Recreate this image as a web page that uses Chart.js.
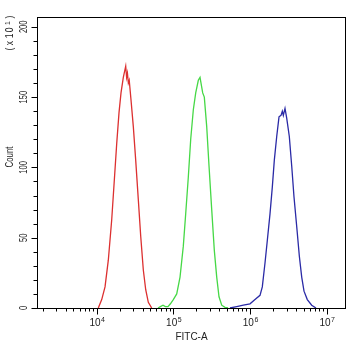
<!DOCTYPE html>
<html>
<head>
<meta charset="utf-8">
<script src="https://cdn.jsdelivr.net/npm/chart.js@4.4.1/dist/chart.umd.min.js"></script>
<style>
  html, body { margin: 0; padding: 0; background: #fff; }
  #wrap { width: 350px; height: 343px; position: relative; }
</style>
</head>
<body>
<div id="wrap"><canvas id="FITC"></canvas></div>
<script>
// FITC-A channel value of each histogram bin and its count (x 10^1)
const redFitc = [10550, 11690, 12910, 14250, 15790, 17070, 18340, 19650, 20860, 22360, 24030, 24700, 25300, 26000, 26700, 28170, 30190, 32440, 35080, 37700, 40760, 43800, 47360, 52450];
const redCount = [0, 6, 15, 34, 63, 91, 117, 139, 153, 164, 172, 164, 167, 160, 162, 148, 129, 105, 77, 51, 27, 13, 4, 0];

const greenFitc = [63360, 68000, 73620, 79000, 85530, 92000, 100300, 111100, 122700, 135400, 145500, 157300, 169100, 182900, 196500, 212500, 223600, 242400, 254400, 273400, 293000, 317700, 343500, 369200, 395500, 428900, 473600, 518200];
const greenCount = [0, 1, 2, 1, 1, 3, 6, 10, 22, 44, 67, 93, 120, 141, 153, 162, 164, 153, 150, 129, 101, 70, 41, 22, 8, 2, 0.5, 0];

const blueFitc = [550200, 673000, 820000, 1003000, 1165000, 1354000, 1451000, 1573000, 1686000, 1828000, 1959000, 2080000, 2236000, 2396000, 2544000, 2645000, 2726000, 2868000, 3018000, 3264000, 3508000, 3758000, 4076000, 4408000, 4736000, 5075000, 5602000, 6393000, 7273000];
const blueCount = [0, 1, 2, 3, 6, 9, 15, 32, 48, 67, 86, 105, 122, 136, 137, 140, 137, 142, 135, 122, 101, 79, 58, 37, 22, 12, 6, 2, 0];

// axis ticks
const xDecades = [1e4, 1e5, 1e6, 1e7];
const xDecadeExp = ['4', '5', '6', '7'];
const xMinorMult = [2, 3, 4, 5, 6, 7, 8, 9];
const yLabelled = [0, 50, 100, 150, 200];
const yMinorStep = 10;

const FONT = "'Liberation Sans', Arial, sans-serif";
const INK = '#222';

function pairs(xs, ys) {
  return xs.map((x, i) => ({ x: x, y: ys[i] }));
}

// vertical text, read bottom to top, squeezed along its length
function upText(ctx, str, x, y, size, squeeze) {
  ctx.save();
  ctx.translate(x, y);
  ctx.rotate(-Math.PI / 2);
  ctx.scale(squeeze, 1);
  ctx.font = size + 'px ' + FONT;
  ctx.textAlign = 'center';
  ctx.textBaseline = 'middle';
  ctx.fillText(str, 0, 0);
  ctx.restore();
}

// draws the frame, tick marks and all axis text
const axisDecor = {
  id: 'axisDecor',
  afterDraw(chart) {
    const ctx = chart.ctx;
    const a = chart.chartArea;
    const xs = chart.scales.x;
    const ys = chart.scales.y;
    ctx.save();
    ctx.strokeStyle = '#000';
    ctx.fillStyle = INK;
    ctx.lineWidth = 1;
    ctx.strokeRect(Math.round(a.left) + 0.5, Math.round(a.top) + 0.5,
      Math.round(a.right - a.left) - 1, Math.round(a.bottom - a.top));

    const bottom = Math.round(a.bottom) + 0.5;
    const left = Math.round(a.left) + 0.5;

    // y ticks
    ctx.beginPath();
    for (let v = 0; v <= 200; v += yMinorStep) {
      const py = Math.round(ys.getPixelForValue(v)) + 0.5;
      const len = yLabelled.includes(v) ? 6 : 4;
      ctx.moveTo(left - len, py);
      ctx.lineTo(left, py);
    }
    // x ticks
    const lo = xs.min, hi = xs.max;
    for (let e = 3; e <= 7; e++) {
      xMinorMult.forEach(m => {
        const v = m * Math.pow(10, e);
        if (v < lo || v > hi) return;
        const px = Math.round(xs.getPixelForValue(v)) + 0.5;
        ctx.moveTo(px, bottom);
        ctx.lineTo(px, bottom + 3);
      });
    }
    xDecades.forEach(v => {
      const px = Math.round(xs.getPixelForValue(v)) + 0.5;
      ctx.moveTo(px, bottom);
      ctx.lineTo(px, bottom + 6);
    });
    ctx.stroke();

    // y labels, rotated
    yLabelled.forEach(v => {
      upText(ctx, String(v), 24.5, ys.getPixelForValue(v), 10, 0.75);
    });

    // x decade labels: 10 with raised exponent
    ctx.textBaseline = 'alphabetic';
    xDecades.forEach((v, i) => {
      const px = xs.getPixelForValue(v);
      ctx.font = '10px ' + FONT;
      ctx.textAlign = 'right';
      ctx.fillText('10', px + 4, 326);
      ctx.font = '7px ' + FONT;
      ctx.textAlign = 'left';
      ctx.fillText(xDecadeExp[i], px + 4.5, 322);
    });

    // x title
    ctx.font = '10px ' + FONT;
    ctx.textAlign = 'center';
    ctx.fillText('FITC-A', (a.left + a.right) / 2, 340);

    // y title
    upText(ctx, 'Count', 10, 157, 10.5, 0.75);

    // count multiplier, spaced out as "( x 1 0 ¹ )"
    const parts = [['(', 49], ['x', 43], ['1', 36], ['0', 30], ['1', 23], [')', 17]];
    parts.forEach((p, i) => {
      const sup = i === 4;
      upText(ctx, p[0], sup ? 8 : 10.5, p[1], sup ? 8 : 10, 0.85);
    });
    ctx.restore();
  }
};

new Chart(document.getElementById('FITC'), {
  type: 'scatter',
  data: {
    datasets: [
      { label: 'red', data: pairs(redFitc, redCount), borderColor: '#dc3030' },
      { label: 'green', data: pairs(greenFitc, greenCount), borderColor: '#46d846' },
      { label: 'blue', data: pairs(blueFitc, blueCount), borderColor: '#2a2aa6' }
    ]
  },
  options: {
    responsive: true,
    maintainAspectRatio: false,
    animation: false,
    showLine: true,
    layout: { padding: { left: 37, top: 17, right: 4, bottom: 35 } },
    elements: {
      point: { radius: 0, hoverRadius: 0 },
      line: { borderWidth: 1.3, tension: 0 }
    },
    plugins: {
      legend: { display: false },
      tooltip: { enabled: false }
    },
    scales: {
      x: { type: 'logarithmic', display: false, min: 1675, max: 1.79e7 },
      y: { type: 'linear', display: false, min: 0, max: 207 }
    }
  },
  plugins: [axisDecor]
});
</script>
</body>
</html>
